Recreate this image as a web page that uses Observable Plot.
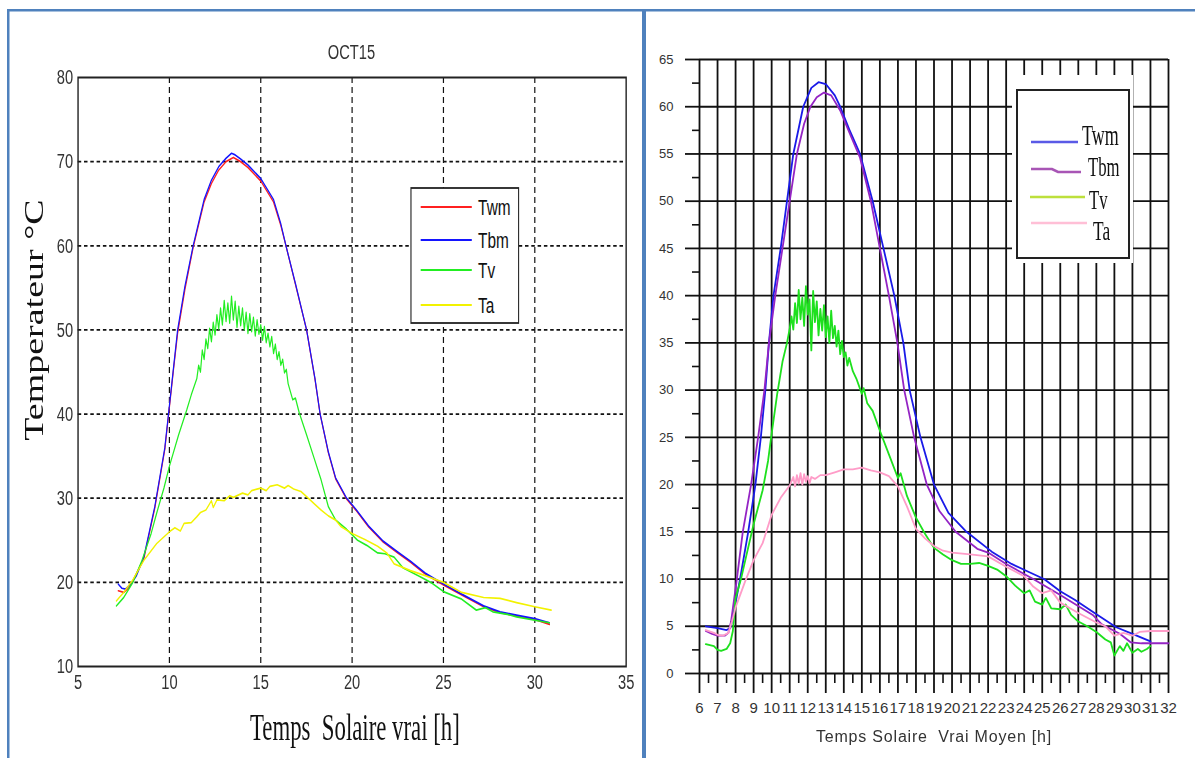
<!DOCTYPE html>
<html><head><meta charset="utf-8">
<script src="https://cdn.jsdelivr.net/npm/d3@7"></script>
<script src="https://cdn.jsdelivr.net/npm/@observablehq/plot@0.6"></script>
<style>
body{margin:0;background:#fff;width:1195px;height:758px;overflow:hidden;position:relative;font-family:Arial,"Liberation Sans",sans-serif}
#left{position:absolute;left:0;top:0;width:921px;height:758px;transform:scaleX(0.7);transform-origin:0 0}
#right{position:absolute;left:645px;top:0;width:550px;height:758px}
.ov{position:absolute;left:0;top:0;overflow:visible}
svg text{white-space:pre}
</style></head><body>
<div id="left"></div>
<div id="right"></div>
<script>
// ---------- Left panel (OCT15) ----------
const leftTitle = "OCT15";
const leftXTicks = [5, 10, 15, 20, 25, 30, 35];
const leftYTicks = [10, 20, 30, 40, 50, 60, 70, 80];
const leftSeries = ["Twm", "Tbm", "Tv", "Ta"];
const leftColors = ["#ff2020", "#1414ff", "#22ee22", "#f2f200"];

const oct15Twm = [[7.2,19.0],[7.5,18.8],[7.8,19.4],[8.0,20.2],[8.6,22.8],[9.2,28.8],[9.75,35.8],[10.0,40.8],[10.2,44.8],[10.45,49.6],[10.85,54.8],[11.3,59.8],[11.9,65.2],[12.3,67.4],[12.7,69.0],[13.1,70.0],[13.5,70.5],[13.9,70.0],[14.3,69.3],[15.0,67.7],[15.7,65.2],[16.1,62.4],[16.38,60.0],[16.9,55.4],[17.51,50.0],[17.97,44.1],[18.25,40.0],[18.7,35.4],[19.1,32.3],[19.7,29.9],[20.2,28.6],[20.9,26.6],[21.7,24.8],[22.5,23.5],[23.2,22.4],[24.0,21.0],[25.0,19.7],[26.0,18.5],[27.2,17.1],[28.1,16.4],[29.0,16.0],[30.0,15.6],[30.8,15.0]];
const oct15Tbm = [[7.2,19.8],[7.4,19.3],[7.6,19.2],[7.9,19.8],[8.2,20.8],[8.6,23.0],[9.2,29.0],[9.75,36.0],[10.0,41.0],[10.2,45.0],[10.45,50.0],[10.85,55.2],[11.3,60.0],[11.9,65.5],[12.3,67.8],[12.7,69.4],[13.1,70.4],[13.4,71.0],[13.6,70.8],[13.9,70.3],[14.3,69.6],[15.0,68.0],[15.7,65.5],[16.1,62.6],[16.38,60.0],[16.9,55.5],[17.51,50.0],[17.97,44.2],[18.25,40.0],[18.7,35.5],[19.1,32.4],[19.7,30.0],[20.2,28.7],[20.9,26.7],[21.7,24.9],[22.5,23.6],[23.2,22.5],[24.0,21.1],[25.0,19.8],[26.0,18.6],[27.2,17.2],[28.1,16.5],[29.0,16.1],[30.0,15.7],[30.8,15.2]];
const oct15Tv = [[7.1,17.2],[7.5,18.2],[8.0,20.0],[8.5,22.6],[9.0,25.8],[9.3,28.2],[9.7,31.2],[10.0,33.8],[10.5,37.5],[10.95,40.5],[11.2,42.3],
[11.5,44.2],[11.6,45.8],[11.7,45.0],[11.8,47.6],[11.9,46.5],[12.0,48.9],[12.1,47.8],[12.2,50.2],[12.3,48.6],[12.4,50.9],[12.5,49.4],[12.6,51.8],[12.7,50.1],[12.8,52.6],[12.9,50.6],[13.0,53.5],[13.1,51.0],[13.2,53.2],[13.3,50.8],[13.4,54.0],[13.5,51.2],[13.6,53.4],[13.7,50.3],[13.8,52.8],[13.9,50.5],[14.0,52.6],[14.1,50.0],[14.2,52.1],[14.3,49.6],[14.4,51.9],[14.5,49.8],[14.6,51.5],[14.7,49.3],[14.8,51.2],[14.9,49.5],[15.0,50.6],[15.1,48.8],[15.2,50.4],[15.3,48.5],[15.4,49.6],[15.5,48.0],[15.6,49.2],[15.7,47.2],[15.8,48.3],[15.9,46.5],[16.0,47.4],[16.1,45.8],[16.2,46.5],[16.3,44.9],[16.4,45.3],[16.5,43.6],
[16.75,41.7],[16.9,41.9],[17.1,40.2],[17.5,37.6],[17.9,34.9],[18.3,32.2],[18.7,29.0],[19.1,27.4],[19.7,26.3],[20.3,25.0],[20.8,24.4],[21.4,23.5],[21.8,23.4],[22.3,23.0],[22.8,21.7],[23.7,20.7],[24.3,20.0],[25.0,18.9],[26.0,18.0],[26.8,16.7],[27.3,17.0],[27.7,16.5],[28.5,16.2],[29.0,15.9],[30.0,15.5],[30.8,15.2]];
const oct15Ta = [[7.1,17.8],[7.5,18.8],[8.0,20.3],[8.6,22.6],[9.3,24.6],[10.0,26.0],[10.3,26.5],[10.6,26.1],[10.8,27.0],[11.2,27.1],[11.5,27.8],[11.7,28.3],[12.0,28.6],[12.3,29.7],[12.4,28.9],[12.6,29.8],[13.0,29.7],[13.3,30.3],[13.5,30.1],[14.0,30.6],[14.3,30.4],[14.5,30.9],[15.0,31.2],[15.3,30.9],[15.5,31.4],[15.9,31.6],[16.3,31.2],[16.5,31.5],[16.8,31.1],[17.2,30.8],[17.5,30.2],[18.0,29.2],[18.3,28.6],[18.7,27.9],[19.1,27.4],[19.4,26.6],[20.0,25.8],[20.7,25.1],[21.4,24.3],[21.9,23.5],[22.3,22.2],[23.2,21.4],[24.0,20.8],[25.0,20.0],[26.0,18.8],[27.2,18.2],[28.1,18.1],[29.0,17.6],[30.0,17.1],[30.9,16.7]];

// ---------- Right panel ----------
const rightXTicks = [6,7,8,9,10,11,12,13,14,15,16,17,18,19,20,21,22,23,24,25,26,27,28,29,30,31,32];
const rightXMinor = [6.5,7.5,8.5,9.5,10.5,11.5,12.5,13.5,14.5,15.5,16.5,17.5,18.5,19.5,20.5,21.5,22.5,23.5,24.5,25.5,26.5,27.5,28.5,29.5,30.5,31.5];
const rightYTicks = [0,5,10,15,20,25,30,35,40,45,50,55,60,65];
const rightYMinor = [2.5,7.5,12.5,17.5,22.5,27.5,32.5,37.5,42.5,47.5,52.5,57.5,62.5];
const rightSeries = ["Twm", "Tbm", "Tv", "Ta"];
const rightColors = ["#1a1ae8", "#9424c4", "#1ee01e", "#ff9cc8"];
const rightLegendColors = ["#5a5ae6", "#a855b5", "#bde03c", "#ffbfd6"];

const tsvmTwm = [[6.35,5.0],[7.0,4.8],[7.5,4.6],[7.7,4.8],[7.8,5.5],[8.25,10],[8.7,15],[9.1,20],[9.4,25],[9.65,30],[9.85,35],[10.1,40],[10.5,45],[10.85,50],[11.2,55],[11.75,60],[12.2,62.0],[12.6,62.6],[13.0,62.4],[13.5,61.2],[13.8,60],[14.3,57.6],[14.9,55],[15.6,50],[16.2,45],[16.8,40],[17.3,35],[17.65,30],[18.25,25],[19.0,20],[19.8,17.0],[20.8,15.0],[22.2,12.9],[23.3,11.6],[24.2,10.8],[25.1,10.0],[26.0,8.7],[26.8,7.8],[27.9,6.4],[29.1,4.9],[30.0,4.2],[31.0,3.4]];
const tsvmTbm = [[6.35,4.5],[6.7,4.2],[7.0,4.0],[7.4,4.0],[7.6,4.3],[7.75,5.5],[8.07,10],[8.4,15],[8.86,20],[9.25,25],[9.6,30],[9.85,35],[10.2,40],[10.6,45],[11.0,50],[11.4,55],[11.8,58.2],[12.15,60],[12.5,61.0],[12.9,61.5],[13.3,61.2],[13.8,59.6],[14.3,57.3],[14.9,54.6],[15.5,50],[16.0,45],[16.5,40],[16.97,35],[17.35,30],[17.9,25],[18.6,20],[19.3,17.2],[20.2,15.0],[21.4,13.2],[22.0,12.8],[23.0,11.6],[24.5,10.0],[26.0,8.3],[27.8,6.2],[28.3,5.2],[29.3,4.2],[29.9,3.3],[30.5,3.2],[32.0,3.2]];
const tsvmTv = [[6.35,3.1],[6.8,2.9],[7.0,2.5],[7.2,2.4],[7.5,2.6],[7.7,3.2],[7.85,4.5],[8.0,8.0],[8.3,10.0],[8.6,12.5],[9.0,15.8],[9.5,19.4],[9.8,22.5],[10.0,25.4],[10.3,29.5],[10.6,33.0],[10.85,35.0],[11.0,36.5],
[11.1,37.8],[11.2,36.4],[11.3,39.2],[11.4,37.1],[11.5,40.6],[11.6,37.5],[11.7,39.8],[11.8,36.8],[11.9,41.0],[12.0,38.0],[12.1,39.6],[12.2,34.2],[12.3,40.5],[12.4,37.2],[12.5,39.4],[12.6,35.8],[12.7,38.6],[12.8,36.3],[12.9,39.0],[13.0,35.6],[13.1,37.8],[13.2,35.0],[13.3,38.4],[13.4,35.5],[13.5,36.8],[13.6,34.6],[13.7,36.3],[13.8,33.8],[13.9,35.2],[14.0,33.5],[14.1,34.0],[14.2,32.6],[14.3,33.4],[14.5,32.0],[14.7,31.2],
[15.0,29.6],[15.1,30.2],[15.3,28.6],[15.6,27.8],[16.0,25.7],[16.5,23.2],[17.0,20.7],[17.15,21.2],[17.5,18.8],[18.0,16.5],[18.5,14.8],[19.0,13.3],[19.5,12.6],[20.0,12.0],[20.5,11.6],[21.0,11.6],[21.5,11.7],[22.0,11.4],[22.5,11.0],[23.0,10.3],[23.5,9.3],[24.0,8.5],[24.3,8.8],[24.6,7.6],[25.0,7.3],[25.2,8.0],[25.5,6.9],[26.0,6.8],[26.3,7.3],[26.6,6.2],[27.0,5.5],[27.5,5.0],[28.0,4.4],[28.5,3.6],[28.8,3.3],[29.0,1.9],[29.3,2.9],[29.5,2.4],[29.7,3.2],[30.0,2.2],[30.3,2.6],[30.5,2.3],[30.8,2.6],[31.0,2.9]];
const tsvmTa = [[6.35,4.6],[6.8,4.3],[7.0,4.1],[7.3,4.0],[7.6,4.3],[7.8,5.5],[8.0,7.0],[8.5,9.6],[9.0,12.0],[9.5,13.8],[10.0,16.8],[10.5,18.6],[11.0,19.9],[11.2,20.8],[11.3,19.8],[11.4,21.0],[11.5,20.1],[11.6,21.2],[11.7,20.0],[11.8,21.1],[11.9,20.3],[12.0,20.9],[12.1,20.1],[12.2,20.8],[12.4,20.6],[12.7,21.0],[13.0,21.0],[13.5,21.3],[14.0,21.6],[14.5,21.6],[15.0,21.8],[15.5,21.5],[16.0,21.3],[16.5,20.9],[17.0,19.8],[17.5,17.7],[18.0,15.3],[18.5,14.3],[19.0,13.5],[19.5,13.0],[20.0,12.8],[21.0,12.6],[22.0,12.4],[23.0,11.3],[24.0,10.3],[24.5,9.2],[25.0,8.5],[25.5,8.8],[26.0,7.5],[27.0,6.4],[28.0,5.4],[28.5,5.0],[29.0,4.0],[29.5,4.3],[30.0,4.0],[30.4,4.4],[31.0,4.5],[32.0,4.5]];

// ---------- Left plot ----------
const leftData = [oct15Twm, oct15Tbm, oct15Tv, oct15Ta];
const leftPlot = Plot.plot({
  width: 921, height: 758,
  marginLeft: 111, marginRight: 27, marginTop: 77, marginBottom: 92,
  style: {background: "transparent", color: "#333", fontFamily: "Arial, 'Liberation Sans', sans-serif", overflow: "visible"},
  x: {domain: [5, 35]},
  y: {domain: [10, 80]},
  marks: [
    Plot.ruleX(leftXTicks.slice(1, -1), {stroke: "#111", strokeWidth: 1.7, strokeDasharray: "6,4"}),
    Plot.ruleY(leftYTicks.slice(1, -1), {stroke: "#111", strokeWidth: 1.7, strokeDasharray: "5,4"}),
    ...leftData.map((s, i) => Plot.line(s, {x: "0", y: "1", stroke: leftColors[i], strokeWidth: 1.7})),
    Plot.axisX(leftXTicks, {tickSize: 0, tickPadding: 8, fontSize: 21, label: null}),
    Plot.axisY(leftYTicks, {tickSize: 0, tickPadding: 7, fontSize: 21, label: null}),
    Plot.frame({stroke: "#222", strokeWidth: 2})
  ]
});
document.getElementById("left").appendChild(leftPlot);

const lov = d3.select("#left").append("svg").attr("class", "ov").attr("width", 921).attr("height", 758);
lov.append("text").attr("x", 502).attr("y", 59).attr("text-anchor", "middle")
  .attr("font-family", "Arial, 'Liberation Sans', sans-serif").attr("font-size", 21).attr("fill", "#333").text(leftTitle);
lov.append("text").attr("transform", "translate(61,320) rotate(-90)").attr("text-anchor", "middle")
  .attr("font-family", "'Liberation Serif', 'Times New Roman', serif").attr("font-size", 38).attr("fill", "#111").text("Temperateur °C");
lov.append("text").attr("transform", "translate(507,740) scale(0.88,1)").attr("text-anchor", "middle")
  .attr("font-family", "'Liberation Serif', 'Times New Roman', serif").attr("font-size", 37).attr("fill", "#111").text("Temps  Solaire vrai [h]");
const lleg = lov.append("g");
lleg.append("rect").attr("x", 587).attr("y", 188).attr("width", 154).attr("height", 135)
  .attr("fill", "#fff").attr("stroke", "#222").attr("stroke-width", 1.8);
const lY = [207, 240, 270, 305];
leftSeries.forEach((n, i) => {
  lleg.append("line").attr("x1", 601).attr("x2", 674).attr("y1", lY[i]).attr("y2", lY[i])
    .attr("stroke", leftColors[i]).attr("stroke-width", 2.2);
  lleg.append("text").attr("x", 683).attr("y", lY[i] + 8)
    .attr("font-family", "Arial, 'Liberation Sans', sans-serif").attr("font-size", 22).attr("fill", "#111").text(n);
});

// ---------- Right plot ----------
const rightData = [tsvmTwm, tsvmTbm, tsvmTv, tsvmTa];
const rightPlot = Plot.plot({
  width: 550, height: 758,
  marginLeft: 54, marginRight: 27, marginTop: 59, marginBottom: 85,
  style: {background: "transparent", color: "#222", fontFamily: "Arial, 'Liberation Sans', sans-serif", overflow: "visible"},
  x: {domain: [6, 32]},
  y: {domain: [0, 65]},
  marks: [
    Plot.ruleX(rightXTicks, {stroke: "#111", strokeWidth: 1.8}),
    Plot.ruleY(rightYTicks, {stroke: "#111", strokeWidth: 1.8}),
    Plot.axisX(rightXTicks, {tickSize: 20, tickPadding: 9, fontSize: 15, stroke: "#111", strokeWidth: 1.8, label: null, fill: "#333"}),
    Plot.axisX(rightXMinor, {tickSize: 10, tickFormat: () => "", stroke: "#111", strokeWidth: 1.6, label: null}),
    Plot.axisY(rightYTicks, {tickSize: 14, tickPadding: 12, fontSize: 13, stroke: "#111", strokeWidth: 1.8, label: null, fill: "#333"}),
    Plot.axisY(rightYMinor, {tickSize: 7, tickFormat: () => "", stroke: "#111", strokeWidth: 1.6, label: null}),
    ...rightData.map((s, i) => Plot.line(s, {x: "0", y: "1", stroke: rightColors[i], strokeWidth: 1.8}))
  ]
});
document.getElementById("right").appendChild(rightPlot);

// overlay for the whole page: right legend, right axis label, page borders
const pov = d3.select("body").append("svg").attr("class", "ov").attr("width", 1195).attr("height", 758);
pov.append("text").attr("x", 934).attr("y", 742).attr("text-anchor", "middle")
  .attr("font-family", "Arial, 'Liberation Sans', sans-serif").attr("font-size", 16).attr("letter-spacing", "0.8px")
  .attr("fill", "#333").text("Temps Solaire  Vrai Moyen [h]");
pov.append("rect").attr("x", 1012).attr("y", 75).attr("width", 121).attr("height", 188).attr("fill", "#fff");
pov.append("rect").attr("x", 1017).attr("y", 90).attr("width", 112).attr("height", 168)
  .attr("fill", "none").attr("stroke", "#222").attr("stroke-width", 2);
const rLine = [[1031, 1078, 142, 142], [1031, 1081, 169, 172], [1030, 1085, 197, 197], [1031, 1087, 223, 223]];
const rText = [[1082, 145, 29], [1088, 176, 27], [1089, 209, 27], [1093, 240, 28]];
rightSeries.forEach((n, i) => {
  const [a, b, y1, y2] = rLine[i];
  if (y1 === y2) {
    pov.append("line").attr("x1", a).attr("x2", b).attr("y1", y1).attr("y2", y2)
      .attr("stroke", rightLegendColors[i]).attr("stroke-width", 2.6);
  } else {
    const m = (a + b) / 2;
    pov.append("path").attr("d", `M${a},${y1}H${m - 4}L${m + 2},${y2}H${b}`)
      .attr("fill", "none").attr("stroke", rightLegendColors[i]).attr("stroke-width", 2.6);
  }
  const [tx, ty, fs] = rText[i];
  pov.append("text").attr("transform", `translate(${tx},${ty}) scale(0.62,1)`)
    .attr("font-family", "'Liberation Serif', 'Times New Roman', serif").attr("font-size", fs).attr("fill", "#111").text(n);
});
// page borders
pov.append("rect").attr("x", 7).attr("y", 9).attr("width", 1188).attr("height", 2.5).attr("fill", "#4f81bd");
pov.append("rect").attr("x", 7).attr("y", 9).attr("width", 2.5).attr("height", 749).attr("fill", "#4f81bd");
pov.append("rect").attr("x", 642).attr("y", 9).attr("width", 4).attr("height", 749).attr("fill", "#4f81bd");
</script>
</body></html>
